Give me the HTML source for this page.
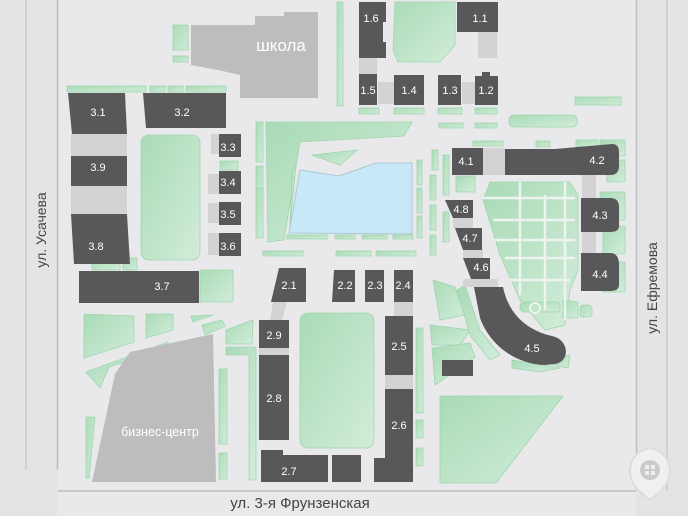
<!DOCTYPE html>
<html><head><meta charset="utf-8"><style>
html,body{margin:0;padding:0;background:#e9e9eb}
svg{display:block}
text{font-family:"Liberation Sans",sans-serif}
</style></head><body>
<svg width="688" height="516" viewBox="0 0 688 516" xmlns="http://www.w3.org/2000/svg">
<defs>
<linearGradient id="g" x1="0" y1="0" x2="1" y2="1"><stop offset="0" stop-color="#a9dbb7"/><stop offset="1" stop-color="#d2ecd9"/></linearGradient>
</defs>
<rect width="688" height="516" fill="#e9e9eb"/>
<rect x="0" y="0" width="57" height="516" fill="#e4e4e6"/>
<rect x="636" y="0" width="52" height="516" fill="#e4e4e6"/>
<line x1="26" y1="0" x2="26" y2="470" stroke="#c9c9cb" stroke-width="1.5"/>
<line x1="57.5" y1="0" x2="57.5" y2="470" stroke="#bdbdc0" stroke-width="1.5"/>
<line x1="636.5" y1="0" x2="636.5" y2="490" stroke="#bdbdc0" stroke-width="1.5"/>
<line x1="667" y1="0" x2="667" y2="490" stroke="#c9c9cb" stroke-width="1.5"/>
<line x1="58" y1="491" x2="636" y2="491" stroke="#bdbdc0" stroke-width="1.5"/>

<g fill="url(#g)" stroke="#9fd6ae" stroke-width="0.8">
<rect x="67" y="86" width="79" height="6"/><rect x="150" y="86" width="15" height="6"/><rect x="168" y="86" width="15" height="6"/><rect x="186" y="86" width="40" height="6"/>
<rect x="173" y="25" width="15" height="25"/><rect x="173" y="56" width="15" height="6"/>
<rect x="337" y="2" width="6" height="104"/>
<rect x="141" y="135" width="59" height="125" rx="8"/>
<rect x="220" y="161" width="18" height="9"/>
<polygon points="266,122 412,122 404,136 300,142 284,240 268,242"/>
<polygon points="292,170 296,165 290,225"/>
<polygon points="312,155 357,150 340,165"/>
<rect x="256" y="122" width="7" height="40"/><rect x="256" y="166" width="7" height="30"/><rect x="256" y="188" width="7" height="50"/>
<rect x="287" y="235" width="40" height="4"/><rect x="335" y="235" width="20" height="4"/><rect x="362" y="235" width="25" height="4"/><rect x="393" y="235" width="20" height="4"/>
<rect x="263" y="251" width="40" height="5"/><rect x="336" y="251" width="35" height="5"/><rect x="376" y="251" width="40" height="5"/>
<rect x="417" y="160" width="5" height="25"/><rect x="417" y="188" width="5" height="25"/><rect x="417" y="216" width="5" height="22"/>
<polygon points="395,2 455,2 455,45 440,62 398,62 393,50"/>
<rect x="359" y="108" width="20" height="6"/><rect x="394" y="108" width="30" height="6"/><rect x="438" y="108" width="24" height="6"/><rect x="475" y="108" width="22" height="6"/>
<rect x="439" y="123" width="24" height="5"/><rect x="475" y="123" width="22" height="5"/>
<rect x="509" y="115" width="68" height="12" rx="5"/><rect x="575" y="97" width="46" height="8"/>
<rect x="473" y="141" width="30" height="5"/><rect x="536" y="141" width="14" height="6"/><rect x="576" y="140" width="22" height="7"/>
<rect x="600" y="140" width="25" height="16"/><rect x="607" y="160" width="18" height="22"/>
<rect x="432" y="150" width="6" height="20"/><rect x="430" y="175" width="6" height="25"/><rect x="430" y="205" width="6" height="25"/><rect x="430" y="235" width="6" height="20"/>
<rect x="443" y="155" width="6" height="40"/><rect x="443" y="212" width="6" height="30"/>
<rect x="456" y="176" width="19" height="16"/>
<rect x="600" y="192" width="25" height="28"/><rect x="603" y="226" width="22" height="28"/><rect x="603" y="262" width="22" height="30"/>
<polygon points="490,182 570,182 578,195 578,270 570,290 565,325 545,330 520,300 500,255 483,200"/>
<polygon points="433,280 455,287 465,315 440,320"/><polygon points="430,325 470,330 460,345 432,345"/><polygon points="432,348 470,343 475,357 435,385"/>
<polygon points="465,285 480,330 500,355 490,360 470,335 457,290"/>
<rect x="520" y="302" width="40" height="10" rx="4"/><polygon points="563,300 578,302 578,318 563,318"/><rect x="580" y="305" width="12" height="12" rx="3"/>
<polygon points="512,360 560,368 540,372 512,368"/><polygon points="545,363 570,355 568,368"/>
<rect x="416" y="328" width="7" height="85"/><rect x="416" y="420" width="7" height="18"/><rect x="416" y="448" width="7" height="18"/>
<polygon points="440,396 563,396 496,483 440,483"/>
<rect x="300" y="313" width="74" height="135" rx="8"/>
<rect x="200" y="270" width="33" height="32"/>
<polygon points="84,314 134,316 134,342 84,358"/><polygon points="146,314 173,314 173,330 146,338"/><polygon points="191,316 213,315 193,322"/>
<polygon points="202,325 222,320 225,326 205,335"/><polygon points="226,330 253,320 252,344 226,344"/>
<polygon points="86,372 168,342 168,348 109,367 100,388"/><polygon points="86,417 95,417 89,478 86,478"/>
<rect x="219" y="369" width="8" height="75"/><rect x="219" y="453" width="8" height="26"/>
<polygon points="226,347 256,347 256,480 249,480 249,355 226,355"/>
<rect x="92" y="258" width="28" height="12"/><rect x="123" y="258" width="14" height="12"/>
</g>
<polygon points="300,170 339,176 376,163 412,163 412,234 289,233" fill="#c8e8f8" stroke="#a9c9d6" stroke-width="1"/>
<g stroke="#eef3ef" stroke-width="2.5" fill="none">
<line x1="483" y1="198" x2="575" y2="198"/><line x1="493" y1="220" x2="575" y2="220"/><line x1="495" y1="240" x2="575" y2="240"/><line x1="505" y1="258" x2="575" y2="258"/><line x1="510" y1="280" x2="570" y2="280"/>
<line x1="520" y1="182" x2="520" y2="295"/><line x1="545" y1="195" x2="545" y2="310"/><line x1="565" y1="182" x2="565" y2="320"/>
</g>
<circle cx="535" cy="308" r="5" fill="#bfe5c8" stroke="#eef3ef" stroke-width="2"/>

<g fill="#d3d3d5">
<rect x="71" y="134" width="56" height="22"/><rect x="71" y="186" width="56" height="28"/>
<rect x="211" y="134" width="8" height="20"/><rect x="208" y="174" width="11" height="20"/><rect x="208" y="203" width="11" height="20"/><rect x="208" y="233" width="11" height="22"/>
<rect x="359" y="58" width="18" height="16"/><rect x="378" y="82" width="16" height="22"/><rect x="462" y="82" width="13" height="22"/><rect x="478" y="32" width="19" height="26"/>
<rect x="483" y="148" width="22" height="27"/><rect x="582" y="175" width="14" height="23"/><rect x="582" y="232" width="14" height="21"/>
<rect x="453" y="218" width="20" height="10"/><rect x="463" y="250" width="20" height="8"/><rect x="463" y="279" width="35" height="8"/>
<rect x="385" y="375" width="28" height="14"/><rect x="394" y="302" width="19" height="14"/><rect x="259" y="348" width="30" height="7"/>
<polygon points="273,302 287,302 282,320 270,320"/>
</g>

<polygon fill="#bdbdc0" points="191,25 255,25 255,16 284,16 284,12 318,12 318,98 240,98 240,75 218,70 191,65"/>
<polygon fill="#bdbdc0" points="115,374 130,352 213,334 216,482 92,482"/>
<text x="281" y="51" font-size="17" fill="#fff" text-anchor="middle">школа</text>
<text x="160" y="436" font-size="12.5" fill="#fff" text-anchor="middle">бизнес-центр</text>

<g fill="#58585a">
<polygon points="68,93 125,93 127,134 72,134"/>
<polygon points="143,93 226,93 226,128 146,128"/>
<rect x="71" y="156" width="56" height="30"/>
<polygon points="71,214 127,214 130,264 74,264"/>
<rect x="79" y="271" width="120" height="32"/>
<rect x="219" y="134" width="22" height="23"/><rect x="219" y="171" width="22" height="23"/><rect x="219" y="202" width="22" height="23"/><rect x="219" y="233" width="22" height="23"/>
<polygon points="359,2 386,2 386,22 383,22 383,42 386,42 386,58 359,58"/>
<rect x="457" y="2" width="41" height="30"/>
<rect x="359" y="74" width="18" height="31"/><rect x="394" y="75" width="30" height="30"/><rect x="438" y="75" width="23" height="30"/>
<polygon points="475,76 482,76 482,72 490,72 490,76 498,76 498,105 475,105"/>
<rect x="452" y="148" width="31" height="27"/>
<path d="M505,149 L555,149 L612,144 Q619,144 619,152 L619,166 Q619,175 610,175 L505,175 Z"/>
<path d="M581,198 L610,198 Q619,198 619,207 L619,226 Q619,232 610,232 L581,232 Z"/>
<path d="M581,253 L610,253 Q619,253 619,265 L619,285 Q619,291 610,291 L581,291 Z"/>
<polygon points="445,200 473,200 473,218 453,218"/>
<polygon points="455,228 482,228 482,250 463,250"/>
<polygon points="463,258 490,258 490,279 471,279"/>
<path d="M474,287 L503,287 C508,312 525,330 552,336 C570,340 570,362 555,364 L545,365 C515,364 490,345 480,318 Z"/>
<polygon points="279,268 306,268 306,302 271,302"/>
<polygon points="334,270 355,270 355,302 332,302"/>
<rect x="365" y="270" width="19" height="32"/><rect x="394" y="270" width="19" height="32"/>
<rect x="259" y="320" width="30" height="28"/><rect x="259" y="355" width="30" height="85"/>
<polygon points="261,450 283,450 283,455 328,455 328,482 261,482"/>
<rect x="332" y="455" width="29" height="27"/>
<rect x="385" y="316" width="28" height="59"/>
<polygon points="385,389 413,389 413,482 374,482 374,458 385,458"/>
<rect x="442" y="360" width="31" height="16"/>
</g>

<g fill="#fff" font-size="11" text-anchor="middle">
<text x="98" y="116">3.1</text><text x="182" y="116">3.2</text><text x="98" y="171">3.9</text><text x="96" y="250">3.8</text><text x="162" y="290">3.7</text>
<text x="228" y="151">3.3</text><text x="228" y="186">3.4</text><text x="228" y="218">3.5</text><text x="228" y="250">3.6</text>
<text x="371" y="22">1.6</text><text x="480" y="22">1.1</text><text x="368" y="94">1.5</text><text x="409" y="94">1.4</text><text x="450" y="94">1.3</text><text x="486" y="94">1.2</text>
<text x="466" y="165">4.1</text><text x="597" y="164">4.2</text><text x="600" y="219">4.3</text><text x="600" y="278">4.4</text>
<text x="461" y="213">4.8</text><text x="470" y="242">4.7</text><text x="481" y="271">4.6</text><text x="532" y="352">4.5</text>
<text x="289" y="289">2.1</text><text x="345" y="289">2.2</text><text x="375" y="289">2.3</text><text x="403" y="289">2.4</text>
<text x="274" y="339">2.9</text><text x="274" y="402">2.8</text><text x="289" y="475">2.7</text><text x="399" y="350">2.5</text><text x="399" y="429">2.6</text>
</g>

<text transform="translate(46,230) rotate(-90)" font-size="14" fill="#444" text-anchor="middle">ул. Усачева</text>
<text transform="translate(657,288) rotate(-90)" font-size="14" fill="#444" text-anchor="middle">ул. Ефремова</text>
<text x="300" y="508" font-size="15" fill="#444" text-anchor="middle">ул. 3-я Фрунзенская</text>

<g opacity="0.9">
<path d="M650,448 Q670,452 670,472 Q670,486 650,500 Q630,486 630,472 Q630,452 650,448 Z" fill="#f2f2f3" stroke="#dcdcde" stroke-width="2"/>
<circle cx="650" cy="470" r="10" fill="#c9c9cb"/>
<rect x="645" y="465" width="4" height="4" fill="#eee"/><rect x="651" y="465" width="4" height="4" fill="#eee"/><rect x="645" y="471" width="4" height="4" fill="#eee"/><rect x="651" y="471" width="4" height="4" fill="#eee"/>
</g>
</svg>
</body></html>
